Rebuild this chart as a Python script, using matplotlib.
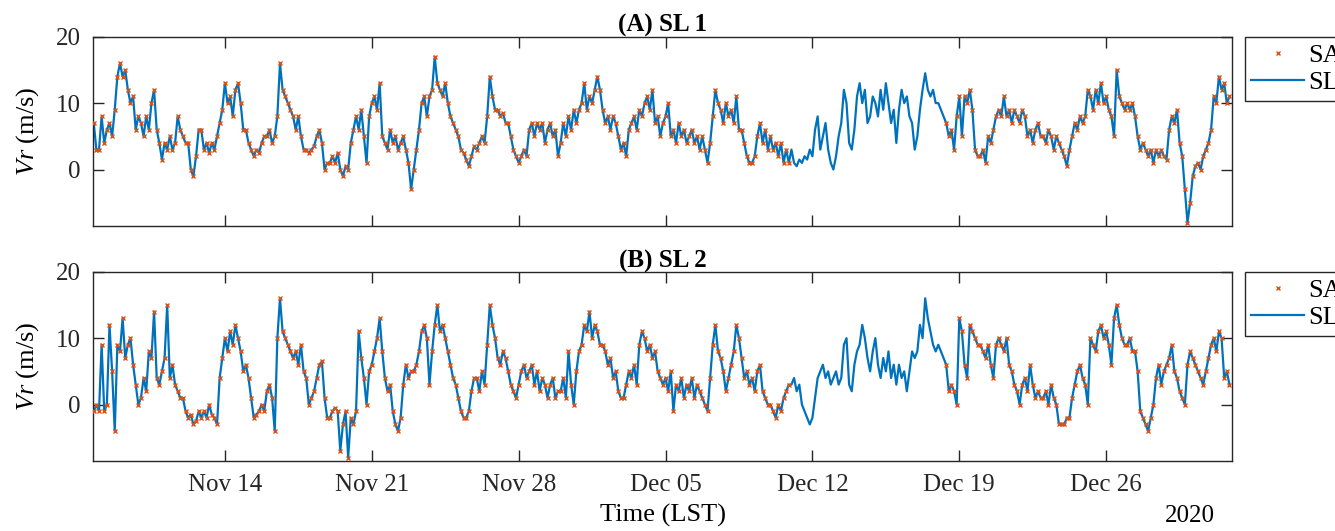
import numpy as np
import pandas as pd
import matplotlib
matplotlib.use('Agg')
import matplotlib.pyplot as plt
import matplotlib.dates as mdates

# fonts: Times-like serif everywhere, italic Vr via mathtext
plt.rcParams['font.family'] = ['Liberation Serif', 'DejaVu Serif']
plt.rcParams['mathtext.fontset'] = 'custom'
plt.rcParams['mathtext.it'] = 'Liberation Serif:italic'
plt.rcParams['mathtext.rm'] = 'Liberation Serif'

# 3-hourly values, starting 2019-11-07 18:00
start = '2019-11-07 18:00'
gap_start = '2019-12-10 22:00'   # SA has no data between these two times
gap_end = '2019-12-18 09:00'

sl1 = [7, 3,
       3, 8, 4, 6, 7, 5, 9, 14,          # Nov 8
       16, 14, 15, 12, 10, 11, 6, 8,
       7, 5, 8, 6, 10, 12, 6, 4,
       1.5, 4, 3, 5, 3, 4, 8, 6,
       5, 4, 4, 0, -1, 2, 6, 6,
       3, 4, 2.5, 4, 3, 5, 7, 9,
       13, 10, 11, 8, 12, 13, 10, 6,     # Nov 14
       6, 4, 3, 2, 3, 2.5, 4, 5,
       5, 6, 4, 5, 8, 16, 12, 11,
       10, 9, 8, 6, 8, 5, 3, 3,
       2.5, 3, 3.5, 5, 6, 4, 0, 1,
       1, 2, 1, 2.5, 0, -1, 0.5, 0,
       4, 6, 8, 6, 9, 5, 1, 8,
       10, 11, 9, 13, 5, 4, 3, 6,        # Nov 21
       4, 5, 3, 4, 5, 3, 1, -3,
       0, 3, 6, 10, 11, 8, 11, 12,
       17, 13, 12, 11, 13, 10, 8, 7,
       6, 5, 3, 2.5, 1.5, 0.5, 2, 3.5,
       3, 4, 5, 4, 8, 14, 11, 9,
       9, 8, 8.5, 7, 7, 5, 3, 2,
       1, 2, 3, 2, 6, 7, 5, 7,           # Nov 28
       6, 7, 4, 6, 7, 5, 6, 2,
       4, 7, 5, 8, 6, 9, 7, 9,
       10, 13, 9, 11, 10, 12, 14, 12,
       9, 7, 8, 6, 8, 7, 5, 3,
       4, 2, 6, 7, 8, 6, 9, 8,
       10, 11, 9, 12, 7, 8, 5, 7,
       8, 10, 5, 6, 4, 7, 5, 6,          # Dec 5
       4, 5, 6, 4, 5, 3, 5, 3,
       1, 4, 8, 12, 10, 9, 7, 10,
       8, 9, 7, 11, 6, 6, 4, 2,
       1, 1, 2, 5, 7, 4, 6, 3,
       5, 3, 4, 2, 4, 1, 3, 1,
       3, 1, 0.5, 1.5, 1, 2, 1.5, 3,
       2, 6, 8, 3, 5, 7, 3, 1,           # Dec 12
       0, 2, 5, 7, 12, 10, 4, 3,
       6, 11, 13, 10, 12, 7, 8, 11,
       10, 8, 12, 9, 13, 10, 7, 9,
       4, 9, 12, 10, 11, 8, 7, 3,
       5, 9, 12, 14.5, 12, 11, 12, 10,
       10, 9, 8, 7, 5, 6, 3, 8,
       11, 5, 11, 10, 12, 9, 3, 2,       # Dec 19
       2, 3, 1, 5, 4, 6, 8, 9,
       8, 11, 8, 9, 7, 9, 8, 7,
       9, 8, 5, 6, 4, 6, 7, 5,
       5, 4, 6, 5, 3, 5, 4, 3,
       2, 0.5, 3, 5, 7, 6, 8, 7,
       8, 12, 11, 9, 12, 10, 13, 10,
       11, 9, 8, 5, 15, 11, 10, 9,       # Dec 26
       10, 9, 10, 8, 5, 3, 4, 3,
       2, 3, 1, 3, 2, 3, 2, 1.5,
       6, 8, 7, 9, 4, 2, -3, -8,
       -5, -1, 0.5, 1, 0, 2, 3, 4,
       6, 11, 10, 14, 12, 13, 10, 11]

sl2 = [-1, 0,
       -1, 9, -1, 0, 12, 5, -4, 9,       # Nov 8
       8, 13, 7, 9, 10, 6, 3, 0,
       1, 4, 2, 8, 7, 14, 4, 3,
       5, 7, 15, 4, 6, 3, 2, 1,
       1, -1, -2, -1.5, -3, -2.5, -1, -2,
       -1, -2, 0, -1.5, -2, -3, 4, 7,
       10, 8, 11, 9, 12, 10, 8, 5,       # Nov 14
       6, 4, 1, -2, -1.5, -1, 0, -1,
       2, 3, 1, -4, 10, 16, 11, 10,
       9, 8, 7, 8, 6, 9, 5, 4,
       0, 1, 2, 4, 6, 6.5, 1, -2,
       -2, -1, -0.5, -1, -7, -3, -1, -8,
       -2, -3, -1, 11, 7, 4, 0, 5,
       6, 8, 10, 13, 8, 4, 2, 3,         # Nov 21
       -1, -3, -4, -2, 3, 6, 4, 5,
       5, 6, 8, 11, 12, 10, 3, 8,
       12, 15, 11, 12, 10, 8, 6, 4,
       3, 1, -1, -2, -2, -1, 2, 4,
       4, 2, 5, 3, 9, 15, 12, 10,
       7, 6, 8, 7, 5, 3, 2, 1,
       3, 5, 6, 4, 5, 6, 3, 5,           # Nov 28
       2, 4, 3, 1, 3, 4, 1, 2,
       2, 4, 1, 8, 3, 0, 5, 8,
       9, 12, 11, 14, 10, 12, 11, 9,
       9, 8, 6, 7, 4, 5, 2, 1,
       1, 3, 5, 4, 6, 3, 9, 11,
       10, 8, 9, 7, 8, 5, 4, 3,
       4, 2, 5, -1, 3, 2, 4, 1,          # Dec 5
       3, 2, 4, 1, 3, 2, 1, 0,
       -1, 4, 9, 12, 8, 7, 5, 2,
       4, 6, 8, 12, 10, 7, 4, 5,
       3, 4, 2, 5, 6, 2, 1, 0,
       0, -1, -2, 0, -1, 1, 2, 3,
       3, 4, 2, 3, 0, -1, -2, -3,
       -2, 1, 4, 5, 6, 4, 5, 3,          # Dec 12
       4, 5, 3, 4, 9, 10, 3, 2,
       6, 8, 9, 12, 10, 7, 5, 8,
       10, 6, 4, 7, 5, 8, 4, 6,
       3, 6, 4, 5, 2, 5, 8, 7,
       8, 12, 10, 16, 13, 11, 9, 8,
       9, 8, 7, 6, 2, 3, 2, 0,
       13, 11, 6, 4, 12, 11, 10, 9,      # Dec 19
       9, 8, 7, 9, 6, 4, 9, 10,
       9, 8, 10, 6, 5, 3, 2, 0,
       3, 4, 2, 6, 3, 1, 2, 1,
       1, 2, 0, 3, 1, 0, -3, -3,
       -3, -2, -2, 1, 3, 5, 6, 4,
       3, 0, 10, 9, 8, 11, 12, 10,
       11, 9, 6, 13, 15, 12, 10, 9,      # Dec 26
       9, 10, 8, 8, 5, -1, -2, -3,
       -4, -2, 0, 4, 6, 3, 5, 6,
       7, 9, 5, 4, 2, 1, 0, 6,
       8, 7, 6, 5, 4, 3, 5, 7,
       9, 10, 8, 11, 10, 4, 5, 3]

titles = ['(A) SL 1', '(B) SL 2']
tick_days = pd.date_range('2019-11-14', '2019-12-26', freq='7D')

blue = '#0072BD'
orange = '#D95319'

fig = plt.figure(figsize=(13.35, 5.31), dpi=100)
ax1 = fig.add_axes([0.0699, 0.5744, 0.853, 0.3565])
ax2 = fig.add_axes([0.0699, 0.1318, 0.853, 0.3565])

for ax, vals, title in zip([ax1, ax2], [sl1, sl2], titles):
    t = pd.date_range(start, periods=len(vals), freq='3h')
    v = np.array(vals, dtype=float)
    sa = v.copy()
    sa[(t > gap_start) & (t < gap_end)] = np.nan

    ax.plot(t, v, '-', color=blue, lw=1.6, label='SL', zorder=2)
    ax.plot(t, sa, 'x', color=orange, ms=3.5, mew=1.0, label='SA', zorder=3)

    ax.set_xlim(pd.Timestamp('2019-11-07 17:30'), pd.Timestamp('2020-01-01 00:00'))
    ax.set_ylim(-8.5, 20)
    ax.set_yticks([0, 10, 20])
    ax.set_xticks(tick_days)
    ax.xaxis.set_major_formatter(mdates.DateFormatter('%b %d'))
    ax.tick_params(direction='in', length=8, width=1, top=True, right=True,
                   labelsize=18, pad=9, colors='#262626')
    for s in ax.spines.values():
        s.set_linewidth(1.0)
        s.set_color('#262626')
    ax.set_title(title, fontsize=18, fontweight='bold', pad=3)
    ax.set_ylabel(r'$Vr$ (m/s)', fontsize=19)
    ax.yaxis.set_label_coords(-0.046, 0.5)

    # legend sits outside the right edge, partly cut off like the original
    h, l = ax.get_legend_handles_labels()
    leg = ax.legend([h[1], h[0]], [l[1], l[0]], loc='upper left',
                    bbox_to_anchor=(1.011, 1.0), borderaxespad=0,
                    fontsize=19, frameon=True, fancybox=False, framealpha=1,
                    edgecolor='#262626', handlelength=2.0, handletextpad=0.15,
                    borderpad=0.25, labelspacing=0.15)
    leg.get_frame().set_linewidth(1.0)

ax1.tick_params(labelbottom=False)
ax2.set_xlabel('Time (LST)', fontsize=19)
ax2.xaxis.set_label_coords(0.5, -0.225)
fig.text(0.8915, 0.028, '2020', fontsize=18, ha='center', va='center')

fig.savefig('out.png', dpi=100)
